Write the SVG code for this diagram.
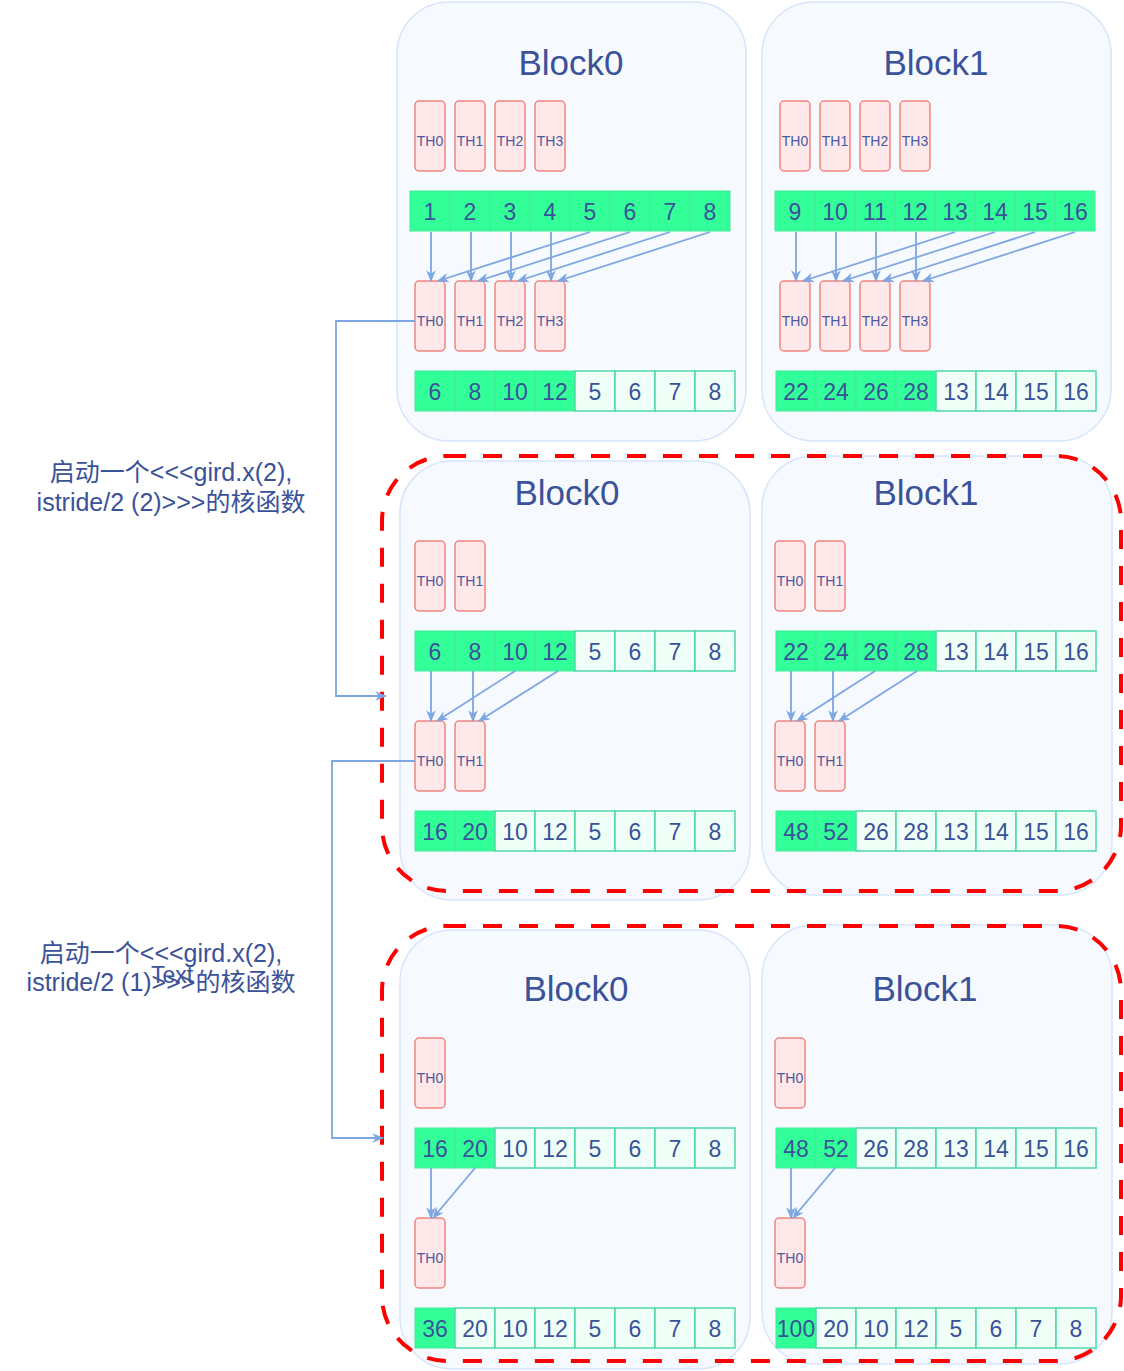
<svg xmlns="http://www.w3.org/2000/svg" width="1124" height="1371" viewBox="0 0 1124 1371">
<defs>
<style>
.blk{fill:#f6faff;stroke:#d6e5fa;stroke-width:1.5}
.th{fill:#ffe8ea;stroke:#f0857f;stroke-width:1.5}
.g{fill:#33ff99;stroke:#45e89a;stroke-width:1}
.w{fill:#effff7;stroke:#4fd8aa;stroke-width:1.5}
text{font-family:"Liberation Sans",Arial,"Noto Sans CJK SC",sans-serif;fill:#3b5299;text-anchor:middle}
.n{font-size:23px}
.t{font-size:14px;fill:#4a5a9e}
.ttl{font-size:35px}
.lbl{font-size:25px}
.red{fill:none;stroke:#ff0000;stroke-width:4;stroke-dasharray:19 17}
.e{fill:none;stroke:#7ea6e0;stroke-width:1.8;marker-end:url(#arr)}
</style>
<marker id="arr" viewBox="0 0 10 10" refX="9" refY="5" markerWidth="12" markerHeight="12" markerUnits="userSpaceOnUse" orient="auto"><path d="M0,1 L10,5 L0,9 L3,5 z" fill="#7ea6e0"/></marker>
</defs>
<rect width="1124" height="1371" fill="#ffffff"/>

<!-- TOP ROW -->
<g id="top-block0">
<rect class="blk" x="397" y="2" width="349" height="439" rx="52"/>
<text class="ttl" x="571" y="75">Block0</text>
<rect class="th" x="415" y="101" width="30" height="70" rx="4"/><text class="t" x="430" y="146">TH0</text>
<rect class="th" x="455" y="101" width="30" height="70" rx="4"/><text class="t" x="470" y="146">TH1</text>
<rect class="th" x="495" y="101" width="30" height="70" rx="4"/><text class="t" x="510" y="146">TH2</text>
<rect class="th" x="535" y="101" width="30" height="70" rx="4"/><text class="t" x="550" y="146">TH3</text>
<rect class="g" x="410" y="191" width="40" height="40"/><text class="n" x="430" y="220">1</text>
<rect class="g" x="450" y="191" width="40" height="40"/><text class="n" x="470" y="220">2</text>
<rect class="g" x="490" y="191" width="40" height="40"/><text class="n" x="510" y="220">3</text>
<rect class="g" x="530" y="191" width="40" height="40"/><text class="n" x="550" y="220">4</text>
<rect class="g" x="570" y="191" width="40" height="40"/><text class="n" x="590" y="220">5</text>
<rect class="g" x="610" y="191" width="40" height="40"/><text class="n" x="630" y="220">6</text>
<rect class="g" x="650" y="191" width="40" height="40"/><text class="n" x="670" y="220">7</text>
<rect class="g" x="690" y="191" width="40" height="40"/><text class="n" x="710" y="220">8</text>
<rect class="th" x="415" y="281" width="30" height="70" rx="4"/><text class="t" x="430" y="326">TH0</text>
<rect class="th" x="455" y="281" width="30" height="70" rx="4"/><text class="t" x="470" y="326">TH1</text>
<rect class="th" x="495" y="281" width="30" height="70" rx="4"/><text class="t" x="510" y="326">TH2</text>
<rect class="th" x="535" y="281" width="30" height="70" rx="4"/><text class="t" x="550" y="326">TH3</text>
<rect class="g" x="415" y="371" width="40" height="40"/><text class="n" x="435" y="400">6</text>
<rect class="g" x="455" y="371" width="40" height="40"/><text class="n" x="475" y="400">8</text>
<rect class="g" x="495" y="371" width="40" height="40"/><text class="n" x="515" y="400">10</text>
<rect class="g" x="535" y="371" width="40" height="40"/><text class="n" x="555" y="400">12</text>
<rect class="w" x="575" y="371" width="40" height="40"/><text class="n" x="595" y="400">5</text>
<rect class="w" x="615" y="371" width="40" height="40"/><text class="n" x="635" y="400">6</text>
<rect class="w" x="655" y="371" width="40" height="40"/><text class="n" x="675" y="400">7</text>
<rect class="w" x="695" y="371" width="40" height="40"/><text class="n" x="715" y="400">8</text>
</g>

<g id="top-block1">
<rect class="blk" x="762" y="2" width="349" height="439" rx="52"/>
<text class="ttl" x="936" y="75">Block1</text>
<rect class="th" x="780" y="101" width="30" height="70" rx="4"/><text class="t" x="795" y="146">TH0</text>
<rect class="th" x="820" y="101" width="30" height="70" rx="4"/><text class="t" x="835" y="146">TH1</text>
<rect class="th" x="860" y="101" width="30" height="70" rx="4"/><text class="t" x="875" y="146">TH2</text>
<rect class="th" x="900" y="101" width="30" height="70" rx="4"/><text class="t" x="915" y="146">TH3</text>
<rect class="g" x="775" y="191" width="40" height="40"/><text class="n" x="795" y="220">9</text>
<rect class="g" x="815" y="191" width="40" height="40"/><text class="n" x="835" y="220">10</text>
<rect class="g" x="855" y="191" width="40" height="40"/><text class="n" x="875" y="220">11</text>
<rect class="g" x="895" y="191" width="40" height="40"/><text class="n" x="915" y="220">12</text>
<rect class="g" x="935" y="191" width="40" height="40"/><text class="n" x="955" y="220">13</text>
<rect class="g" x="975" y="191" width="40" height="40"/><text class="n" x="995" y="220">14</text>
<rect class="g" x="1015" y="191" width="40" height="40"/><text class="n" x="1035" y="220">15</text>
<rect class="g" x="1055" y="191" width="40" height="40"/><text class="n" x="1075" y="220">16</text>
<rect class="th" x="780" y="281" width="30" height="70" rx="4"/><text class="t" x="795" y="326">TH0</text>
<rect class="th" x="820" y="281" width="30" height="70" rx="4"/><text class="t" x="835" y="326">TH1</text>
<rect class="th" x="860" y="281" width="30" height="70" rx="4"/><text class="t" x="875" y="326">TH2</text>
<rect class="th" x="900" y="281" width="30" height="70" rx="4"/><text class="t" x="915" y="326">TH3</text>
<rect class="g" x="776" y="371" width="40" height="40"/><text class="n" x="796" y="400">22</text>
<rect class="g" x="816" y="371" width="40" height="40"/><text class="n" x="836" y="400">24</text>
<rect class="g" x="856" y="371" width="40" height="40"/><text class="n" x="876" y="400">26</text>
<rect class="g" x="896" y="371" width="40" height="40"/><text class="n" x="916" y="400">28</text>
<rect class="w" x="936" y="371" width="40" height="40"/><text class="n" x="956" y="400">13</text>
<rect class="w" x="976" y="371" width="40" height="40"/><text class="n" x="996" y="400">14</text>
<rect class="w" x="1016" y="371" width="40" height="40"/><text class="n" x="1036" y="400">15</text>
<rect class="w" x="1056" y="371" width="40" height="40"/><text class="n" x="1076" y="400">16</text>
</g>

<!-- MIDDLE ROW -->
<g id="mid-block0">
<rect class="blk" x="400" y="461" width="350" height="439" rx="52"/>
<text class="ttl" x="567" y="505">Block0</text>
<rect class="th" x="415" y="541" width="30" height="70" rx="4"/><text class="t" x="430" y="586">TH0</text>
<rect class="th" x="455" y="541" width="30" height="70" rx="4"/><text class="t" x="470" y="586">TH1</text>
<rect class="g" x="415" y="631" width="40" height="40"/><text class="n" x="435" y="660">6</text>
<rect class="g" x="455" y="631" width="40" height="40"/><text class="n" x="475" y="660">8</text>
<rect class="g" x="495" y="631" width="40" height="40"/><text class="n" x="515" y="660">10</text>
<rect class="g" x="535" y="631" width="40" height="40"/><text class="n" x="555" y="660">12</text>
<rect class="w" x="575" y="631" width="40" height="40"/><text class="n" x="595" y="660">5</text>
<rect class="w" x="615" y="631" width="40" height="40"/><text class="n" x="635" y="660">6</text>
<rect class="w" x="655" y="631" width="40" height="40"/><text class="n" x="675" y="660">7</text>
<rect class="w" x="695" y="631" width="40" height="40"/><text class="n" x="715" y="660">8</text>
<rect class="th" x="415" y="721" width="30" height="70" rx="4"/><text class="t" x="430" y="766">TH0</text>
<rect class="th" x="455" y="721" width="30" height="70" rx="4"/><text class="t" x="470" y="766">TH1</text>
<rect class="g" x="415" y="811" width="40" height="40"/><text class="n" x="435" y="840">16</text>
<rect class="g" x="455" y="811" width="40" height="40"/><text class="n" x="475" y="840">20</text>
<rect class="w" x="495" y="811" width="40" height="40"/><text class="n" x="515" y="840">10</text>
<rect class="w" x="535" y="811" width="40" height="40"/><text class="n" x="555" y="840">12</text>
<rect class="w" x="575" y="811" width="40" height="40"/><text class="n" x="595" y="840">5</text>
<rect class="w" x="615" y="811" width="40" height="40"/><text class="n" x="635" y="840">6</text>
<rect class="w" x="655" y="811" width="40" height="40"/><text class="n" x="675" y="840">7</text>
<rect class="w" x="695" y="811" width="40" height="40"/><text class="n" x="715" y="840">8</text>
</g>

<g id="mid-block1">
<rect class="blk" x="762" y="456" width="350" height="439" rx="52"/>
<text class="ttl" x="926" y="505">Block1</text>
<rect class="th" x="775" y="541" width="30" height="70" rx="4"/><text class="t" x="790" y="586">TH0</text>
<rect class="th" x="815" y="541" width="30" height="70" rx="4"/><text class="t" x="830" y="586">TH1</text>
<rect class="g" x="776" y="631" width="40" height="40"/><text class="n" x="796" y="660">22</text>
<rect class="g" x="816" y="631" width="40" height="40"/><text class="n" x="836" y="660">24</text>
<rect class="g" x="856" y="631" width="40" height="40"/><text class="n" x="876" y="660">26</text>
<rect class="g" x="896" y="631" width="40" height="40"/><text class="n" x="916" y="660">28</text>
<rect class="w" x="936" y="631" width="40" height="40"/><text class="n" x="956" y="660">13</text>
<rect class="w" x="976" y="631" width="40" height="40"/><text class="n" x="996" y="660">14</text>
<rect class="w" x="1016" y="631" width="40" height="40"/><text class="n" x="1036" y="660">15</text>
<rect class="w" x="1056" y="631" width="40" height="40"/><text class="n" x="1076" y="660">16</text>
<rect class="th" x="775" y="721" width="30" height="70" rx="4"/><text class="t" x="790" y="766">TH0</text>
<rect class="th" x="815" y="721" width="30" height="70" rx="4"/><text class="t" x="830" y="766">TH1</text>
<rect class="g" x="776" y="811" width="40" height="40"/><text class="n" x="796" y="840">48</text>
<rect class="g" x="816" y="811" width="40" height="40"/><text class="n" x="836" y="840">52</text>
<rect class="w" x="856" y="811" width="40" height="40"/><text class="n" x="876" y="840">26</text>
<rect class="w" x="896" y="811" width="40" height="40"/><text class="n" x="916" y="840">28</text>
<rect class="w" x="936" y="811" width="40" height="40"/><text class="n" x="956" y="840">13</text>
<rect class="w" x="976" y="811" width="40" height="40"/><text class="n" x="996" y="840">14</text>
<rect class="w" x="1016" y="811" width="40" height="40"/><text class="n" x="1036" y="840">15</text>
<rect class="w" x="1056" y="811" width="40" height="40"/><text class="n" x="1076" y="840">16</text>
</g>

<!-- BOTTOM ROW -->
<g id="bot-block0">
<rect class="blk" x="400" y="930" width="350" height="439" rx="52"/>
<text class="ttl" x="576" y="1001">Block0</text>
<rect class="th" x="415" y="1038" width="30" height="70" rx="4"/><text class="t" x="430" y="1083">TH0</text>
<rect class="g" x="415" y="1128" width="40" height="40"/><text class="n" x="435" y="1157">16</text>
<rect class="g" x="455" y="1128" width="40" height="40"/><text class="n" x="475" y="1157">20</text>
<rect class="w" x="495" y="1128" width="40" height="40"/><text class="n" x="515" y="1157">10</text>
<rect class="w" x="535" y="1128" width="40" height="40"/><text class="n" x="555" y="1157">12</text>
<rect class="w" x="575" y="1128" width="40" height="40"/><text class="n" x="595" y="1157">5</text>
<rect class="w" x="615" y="1128" width="40" height="40"/><text class="n" x="635" y="1157">6</text>
<rect class="w" x="655" y="1128" width="40" height="40"/><text class="n" x="675" y="1157">7</text>
<rect class="w" x="695" y="1128" width="40" height="40"/><text class="n" x="715" y="1157">8</text>
<rect class="th" x="415" y="1218" width="30" height="70" rx="4"/><text class="t" x="430" y="1263">TH0</text>
<rect class="g" x="415" y="1308" width="40" height="40"/><text class="n" x="435" y="1337">36</text>
<rect class="w" x="455" y="1308" width="40" height="40"/><text class="n" x="475" y="1337">20</text>
<rect class="w" x="495" y="1308" width="40" height="40"/><text class="n" x="515" y="1337">10</text>
<rect class="w" x="535" y="1308" width="40" height="40"/><text class="n" x="555" y="1337">12</text>
<rect class="w" x="575" y="1308" width="40" height="40"/><text class="n" x="595" y="1337">5</text>
<rect class="w" x="615" y="1308" width="40" height="40"/><text class="n" x="635" y="1337">6</text>
<rect class="w" x="655" y="1308" width="40" height="40"/><text class="n" x="675" y="1337">7</text>
<rect class="w" x="695" y="1308" width="40" height="40"/><text class="n" x="715" y="1337">8</text>
</g>

<g id="bot-block1">
<rect class="blk" x="762" y="925" width="350" height="439" rx="52"/>
<text class="ttl" x="925" y="1001">Block1</text>
<rect class="th" x="775" y="1038" width="30" height="70" rx="4"/><text class="t" x="790" y="1083">TH0</text>
<rect class="g" x="776" y="1128" width="40" height="40"/><text class="n" x="796" y="1157">48</text>
<rect class="g" x="816" y="1128" width="40" height="40"/><text class="n" x="836" y="1157">52</text>
<rect class="w" x="856" y="1128" width="40" height="40"/><text class="n" x="876" y="1157">26</text>
<rect class="w" x="896" y="1128" width="40" height="40"/><text class="n" x="916" y="1157">28</text>
<rect class="w" x="936" y="1128" width="40" height="40"/><text class="n" x="956" y="1157">13</text>
<rect class="w" x="976" y="1128" width="40" height="40"/><text class="n" x="996" y="1157">14</text>
<rect class="w" x="1016" y="1128" width="40" height="40"/><text class="n" x="1036" y="1157">15</text>
<rect class="w" x="1056" y="1128" width="40" height="40"/><text class="n" x="1076" y="1157">16</text>
<rect class="th" x="775" y="1218" width="30" height="70" rx="4"/><text class="t" x="790" y="1263">TH0</text>
<rect class="g" x="776" y="1308" width="40" height="40"/><text class="n" x="796" y="1337">100</text>
<rect class="w" x="816" y="1308" width="40" height="40"/><text class="n" x="836" y="1337">20</text>
<rect class="w" x="856" y="1308" width="40" height="40"/><text class="n" x="876" y="1337">10</text>
<rect class="w" x="896" y="1308" width="40" height="40"/><text class="n" x="916" y="1337">12</text>
<rect class="w" x="936" y="1308" width="40" height="40"/><text class="n" x="956" y="1337">5</text>
<rect class="w" x="976" y="1308" width="40" height="40"/><text class="n" x="996" y="1337">6</text>
<rect class="w" x="1016" y="1308" width="40" height="40"/><text class="n" x="1036" y="1337">7</text>
<rect class="w" x="1056" y="1308" width="40" height="40"/><text class="n" x="1076" y="1337">8</text>
</g>

<!-- red dashed groups -->
<g id="launch1"><rect class="red" x="382" y="456" width="739" height="435" rx="65"/></g>
<g id="launch2"><rect class="red" x="382" y="926" width="739" height="435" rx="65"/></g>

<!-- labels -->
<g id="label1">
<text class="lbl" x="171" y="481">启动一个&lt;&lt;&lt;gird.x(2),</text>
<text class="lbl" x="171" y="511">istride/2 (2)&gt;&gt;&gt;的核函数</text>
</g>
<g id="label2">
<text class="lbl" x="161" y="962">启动一个&lt;&lt;&lt;gird.x(2),</text>
<text class="lbl" x="161" y="991">istride/2 (1)&gt;&gt;&gt;的核函数</text>
<text class="lbl" x="172" y="983" style="font-size:23px">Text</text>
</g>

<!-- connectors -->
<g id="connectors">
<path class="e" d="M431,232 V281"/><path class="e" d="M471,232 V281"/><path class="e" d="M511,232 V281"/><path class="e" d="M551,232 V281"/>
<path class="e" d="M590,232 L438,281"/><path class="e" d="M630,232 L478,281"/><path class="e" d="M670,232 L518,281"/><path class="e" d="M710,232 L558,281"/>
<path class="e" d="M796,232 V281"/><path class="e" d="M836,232 V281"/><path class="e" d="M876,232 V281"/><path class="e" d="M916,232 V281"/>
<path class="e" d="M955,232 L803,281"/><path class="e" d="M995,232 L843,281"/><path class="e" d="M1035,232 L883,281"/><path class="e" d="M1075,232 L923,281"/>
<path class="e" d="M431,671 V721"/><path class="e" d="M473,671 V721"/>
<path class="e" d="M515,671 L437,721"/><path class="e" d="M558,671 L479,721"/>
<path class="e" d="M791,671 V721"/><path class="e" d="M833,671 V721"/>
<path class="e" d="M875,671 L797,721"/><path class="e" d="M917,671 L839,721"/>
<path class="e" d="M431,1168 V1218"/><path class="e" d="M475,1168 L433,1218"/>
<path class="e" d="M791,1168 V1218"/><path class="e" d="M835,1168 L793,1218"/>
<path class="e" d="M415,321 H336 V696 H386"/>
<path class="e" d="M415,761 H332 V1138 H383"/>
</g>
</svg>
